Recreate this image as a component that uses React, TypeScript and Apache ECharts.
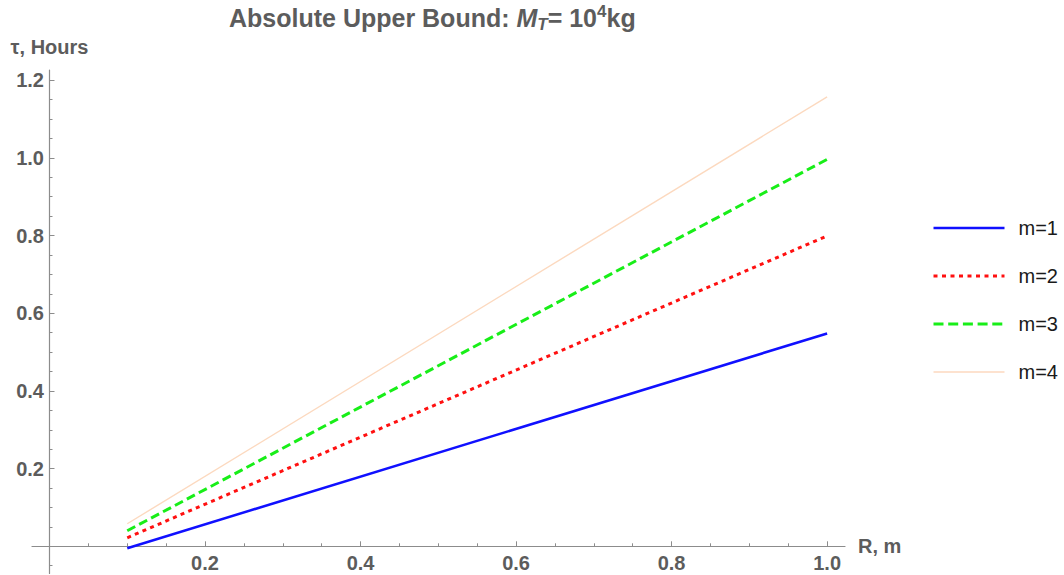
import React, { useEffect, useRef } from "react";
import * as echarts from "echarts";

// Radius R (m) at the two ends of each line
const R_VALUES = [0.1, 1.0];

// Upper-bound time tau (hours) for each m
const SERIES_NAMES = ["m=1", "m=2", "m=3", "m=4"];
const TAU_M1 = [-0.005, 0.548];
const TAU_M2 = [0.022, 0.799];
const TAU_M3 = [0.04, 0.996];
const TAU_M4 = [0.058, 1.157];

// Tick positions
const X_MAJOR = [0.2, 0.4, 0.6, 0.8, 1.0];
const X_MINOR = [0.05, 0.1, 0.15, 0.25, 0.3, 0.35, 0.45, 0.5, 0.55, 0.65, 0.7, 0.75, 0.85, 0.9, 0.95];
const Y_MAJOR = [0.2, 0.4, 0.6, 0.8, 1.0, 1.2];
const Y_MINOR = [-0.05, 0.05, 0.1, 0.15, 0.25, 0.3, 0.35, 0.45, 0.5, 0.55, 0.65, 0.7, 0.75, 0.85, 0.9, 0.95, 1.05, 1.1, 1.15];

const FONT = "'Liberation Sans', Arial, Helvetica, sans-serif";
const LABEL_GRAY = "#5c5c5c";
const AXIS_GRAY = "#8c8c8c";

const X_MIN = -0.0225;
const X_MAX = 1.023;
const Y_MIN = -0.07;
const Y_MAX = 1.226;

const STYLES = [
  { color: "#1010ff", width: 2.6, type: "solid" as any, legendType: "solid" as any },
  { color: "#ff1010", width: 3, type: [4, 4.3], legendType: [4, 4.5] },
  { color: "#18ee18", width: 3, type: [9, 4.5], legendType: [10, 4.7] },
  { color: "#fcd9bf", width: 1.4, type: "solid" as any, legendType: "solid" as any },
];

export default function App() {
  const ref = useRef<HTMLDivElement>(null);

  useEffect(() => {
    if (!ref.current) return;
    const chart = echarts.init(ref.current, null, { renderer: "svg" });
    const tauSets = [TAU_M1, TAU_M2, TAU_M3, TAU_M4];

    const labelStyle = {
      fontFamily: FONT,
      fontSize: 20,
      fontWeight: "bold" as const,
      color: LABEL_GRAY,
    };

    const option: any = {
      animation: false,
      backgroundColor: "#ffffff",
      title: {
        text: "{b|Absolute Upper Bound: }{i|M}{sub|T}{b|= 10}{sup|4}{b|kg}",
        left: 229,
        top: 3,
        padding: 0,
        textStyle: {
          fontFamily: FONT,
          fontSize: 25,
          fontWeight: "bold",
          color: LABEL_GRAY,
          rich: {
            b: { fontFamily: FONT, fontSize: 25, fontWeight: "bold", color: LABEL_GRAY, lineHeight: 30 },
            i: { fontFamily: FONT, fontSize: 25, fontWeight: "bold", fontStyle: "italic", color: LABEL_GRAY, lineHeight: 30 },
            sub: { fontFamily: FONT, fontSize: 17, fontWeight: "bold", fontStyle: "italic", color: LABEL_GRAY, lineHeight: 17, verticalAlign: "bottom" },
            sup: { fontFamily: FONT, fontSize: 17, fontWeight: "bold", color: LABEL_GRAY, lineHeight: 17, verticalAlign: "top" },
          },
        },
      },
      legend: {
        orient: "vertical",
        left: 932,
        top: 218,
        padding: 0,
        itemWidth: 71,
        itemHeight: 14,
        itemGap: 28,
        selectedMode: false,
        itemStyle: { opacity: 0 },
        textStyle: { fontFamily: FONT, fontSize: 20, color: "#1a1a1a", padding: [0, 0, 0, 9] },
        data: SERIES_NAMES.map((name, i) => ({
          name,
          lineStyle: { color: STYLES[i].color, width: STYLES[i].width, type: STYLES[i].legendType, cap: "butt" },
        })),
      },
      grid: {
        left: 32,
        top: 70,
        width: 813,
        height: 503.5,
        containLabel: false,
        outerBoundsMode: "none",
      },
      xAxis: [
        {
          type: "value",
          min: X_MIN,
          max: X_MAX,
          position: "bottom",
          axisLine: { show: true, onZero: true, onZeroAxisIndex: 0, lineStyle: { color: AXIS_GRAY, width: 1.2 } },
          axisTick: { show: true, inside: true, length: 5, customValues: X_MAJOR, lineStyle: { color: AXIS_GRAY, width: 1 } },
          // labels sit under the zero line, measured from the grid's bottom edge
          axisLabel: { show: true, customValues: X_MAJOR, margin: -20.5, formatter: (v: number) => v.toFixed(1), ...labelStyle },
          splitLine: { show: false },
          name: "R, m",
          nameLocation: "end",
          nameGap: 13,
          nameTextStyle: { ...labelStyle },
        },
        {
          type: "value",
          min: X_MIN,
          max: X_MAX,
          position: "bottom",
          axisLine: { show: false, onZero: true, onZeroAxisIndex: 0 },
          axisTick: { show: true, inside: true, length: 3, customValues: X_MINOR, lineStyle: { color: AXIS_GRAY, width: 1 } },
          axisLabel: { show: false },
          splitLine: { show: false },
        },
      ],
      yAxis: [
        {
          type: "value",
          min: Y_MIN,
          max: Y_MAX,
          position: "left",
          axisLine: { show: true, onZero: true, onZeroAxisIndex: 0, lineStyle: { color: AXIS_GRAY, width: 1.2 } },
          axisTick: { show: true, inside: true, length: 5, customValues: Y_MAJOR, lineStyle: { color: AXIS_GRAY, width: 1 } },
          // labels end just left of the zero line, measured from the grid's left edge
          axisLabel: { show: true, customValues: Y_MAJOR, margin: -12, formatter: (v: number) => v.toFixed(1), ...labelStyle },
          splitLine: { show: false },
          name: "τ, Hours",
          nameLocation: "end",
          nameGap: 13,
          nameTextStyle: { ...labelStyle },
        },
        {
          type: "value",
          min: Y_MIN,
          max: Y_MAX,
          position: "left",
          axisLine: { show: false, onZero: true, onZeroAxisIndex: 0 },
          axisTick: { show: true, inside: true, length: 3, customValues: Y_MINOR, lineStyle: { color: AXIS_GRAY, width: 1 } },
          axisLabel: { show: false },
          splitLine: { show: false },
        },
      ],
      series: SERIES_NAMES.map((name, i) => ({
        type: "line",
        name,
        xAxisIndex: 0,
        yAxisIndex: 0,
        symbol: "none",
        color: STYLES[i].color,
        lineStyle: { color: STYLES[i].color, width: STYLES[i].width, type: STYLES[i].type, cap: "butt" },
        data: R_VALUES.map((r, k) => [r, tauSets[i][k]]),
        z: 10 - i,
      })),
    };

    chart.setOption(option);
    return () => chart.dispose();
  }, []);

  return (
    <div
      ref={ref}
      style={{ position: "absolute", left: 0, top: 0, width: 1064, height: 575 }}
    />
  );
}
